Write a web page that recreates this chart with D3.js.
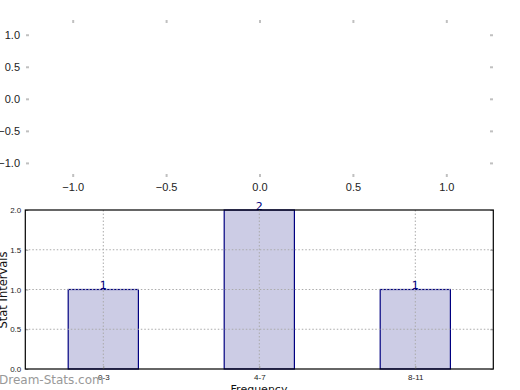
<html>
<head> <meta charset="utf-8"/></head>
<script src='https://d3js.org/d3.v7.min.js'></script>
<style>
	body {margin: 0; background: white;}
	svg {font-family: "DejaVu Sans", sans-serif;}
	.top .domain {display: none;}
	.top .tick line {stroke: #c0c0c0; stroke-width: 2;}
	.top .tick text {fill: #222; font-size: 11px;}
	.bot .domain {display: none;}
	.bot .tick line {stroke: #999; stroke-width: 1;}
	.bot .tick text {fill: #222; font-size: 8px;}
	.grid line {stroke: #aaa; stroke-dasharray: 1.5,2;}
</style>
<body>
<svg width=520 height=390></svg>
<script>

// data
var categories = ["0-3", "4-7", "8-11"];
var values = [1, 2, 1];
var topTicks = [-1, -0.5, 0, 0.5, 1];
var botYTicks = [0, 0.5, 1, 1.5, 2];

var svg = d3.select("svg");

// ---- empty top panel ----
var tx = d3.scaleLinear().domain([-1.25, 1.25]).range([26, 493]);
var ty = d3.scaleLinear().domain([-1.22, 1.23]).range([177, 20]);
var fmt = function(d) { return d3.format(".1f")(d).replace("-", "\u2212"); };

var gTop = svg.append("g").attr("class", "top");
gTop.append("g").attr("transform", "translate(0,177)")
	.call(d3.axisBottom(tx).tickValues(topTicks).tickSize(-3).tickPadding(6).tickFormat(fmt));
gTop.append("g").attr("transform", "translate(0,20)")
	.call(d3.axisTop(tx).tickValues(topTicks).tickSize(-3).tickFormat(""));
gTop.append("g").attr("transform", "translate(26,0)")
	.call(d3.axisLeft(ty).tickValues(topTicks).tickSize(-3).tickPadding(6).tickFormat(fmt));
gTop.append("g").attr("transform", "translate(493,0)")
	.call(d3.axisRight(ty).tickValues(topTicks).tickSize(-3).tickFormat(""));

// ---- bar panel ----
var x = d3.scaleLinear().domain([-0.5, 2.5]).range([25.3, 493.3]);
var y = d3.scaleLinear().domain([0, 2]).range([369, 210]);
var barW = 0.45;

var gBot = svg.append("g").attr("class", "bot");

gBot.selectAll("rect.bar")
	.data(values)
	.enter()
	.append("rect")
	.attr("class", "bar")
	.attr("x", function(d, i) { return x(i - barW / 2); })
	.attr("width", x(barW) - x(0))
	.attr("y", function(d) { return y(d); })
	.attr("height", function(d) { return y(0) - y(d); })
	.attr("fill", "#ccccE5")
	.attr("stroke", "#000080")
	.attr("stroke-width", 1.2);

var grid = gBot.append("g").attr("class", "grid");
grid.selectAll("line.h")
	.data(botYTicks.slice(1, 4))
	.enter().append("line")
	.attr("x1", x(-0.5)).attr("x2", x(2.5))
	.attr("y1", function(d) { return y(d); })
	.attr("y2", function(d) { return y(d); });
grid.selectAll("line.v")
	.data(categories)
	.enter().append("line")
	.attr("x1", function(d, i) { return x(i); })
	.attr("x2", function(d, i) { return x(i); })
	.attr("y1", y(0)).attr("y2", y(2));

gBot.selectAll("text.val")
	.data(values)
	.enter()
	.append("text")
	.attr("class", "val")
	.attr("x", function(d, i) { return x(i); })
	.attr("y", function(d) { return y(d) - 0.5; })
	.attr("text-anchor", "middle")
	.attr("fill", "#000080")
	.attr("font-size", "11px")
	.text(function(d) { return d; });

gBot.append("g").attr("transform", "translate(0,369)")
	.call(d3.axisBottom(x).tickValues([0, 1, 2]).tickSize(-3).tickPadding(5)
		.tickFormat(function(d) { return categories[d]; }));
gBot.append("g").attr("transform", "translate(25.3,0)")
	.call(d3.axisLeft(y).tickValues(botYTicks).tickSize(-3).tickPadding(4).tickFormat(d3.format(".1f")));
gBot.append("g").attr("transform", "translate(493.3,0)")
	.call(d3.axisRight(y).tickValues(botYTicks).tickSize(-3).tickFormat(""));

gBot.append("rect")
	.attr("x", x(-0.5)).attr("y", y(2))
	.attr("width", x(2.5) - x(-0.5)).attr("height", y(0) - y(2))
	.attr("fill", "none").attr("stroke", "black").attr("stroke-width", 1.2);

// axis titles
svg.append("text")
	.attr("transform", "translate(7,290) rotate(-90)")
	.attr("text-anchor", "middle")
	.attr("font-size", "11.5px")
	.attr("fill", "#111")
	.text("Stat Intervals");
svg.append("text")
	.attr("x", 259).attr("y", 393)
	.attr("text-anchor", "middle")
	.attr("font-size", "11px")
	.attr("fill", "#111")
	.text("Frequency");

// watermark
svg.append("text")
	.attr("x", -1).attr("y", 384)
	.attr("font-size", "12px")
	.attr("fill", "#999")
	.text("Dream-Stats.com");
</script>
</body>
</html>
